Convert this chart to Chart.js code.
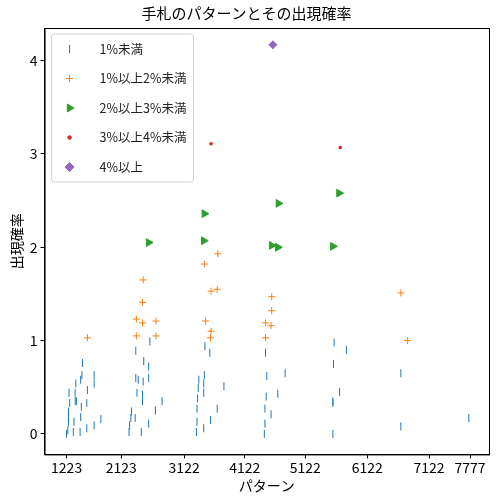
<!DOCTYPE html>
<html>
<head>
<meta charset="utf-8">
<script src="https://cdn.jsdelivr.net/npm/chart.js@4"></script>
<style>
  body { margin: 0; background: #fff; }
  #wrap { width: 500px; height: 500px; }
</style>
</head>
<body>
<div id="wrap"><canvas id="c"></canvas></div>
<script>
// x は「パターン」の並び順（インデックス）、y は出現確率(%)
const tickPos = [0, 8.94, 19.2, 29.1, 39.0, 49.1, 59.2, 65.9];
const tickLabels = ['1223', '2123', '3122', '4122', '5122', '6122', '7122', '7777'];

const lt1X = [0,0.2,0.3,0.3,0.4,0.3,0.5,1.1,1.2,1.4,1.4,1.5,1.6,2.2,2.3,2.4,2.3,2.5,2.6,3.3,3.4,3.3,4.5,4.5,4.5,5.6,
  10.2,10.3,10.5,10.6,11.2,11.3,11.3,11.5,11.7,12.2,12.4,12.4,12.5,12.6,13.4,13.4,13.6,14.5,13.4,15.6,
  21.2,21.3,21.3,21.4,21.5,21.6,22.4,22.4,22.4,22.5,22.6,23.4,23.5,24.6,25.7,
  32.3,32.4,32.4,32.6,32.7,32.5,33.4,34.5,35.7,
  43.5,43.5,43.5,43.6,43.7,44.6,45.7, 54.6,54.6,65.7];
const lt1Y = [0.00,0.04,0.13,0.24,0.44,0.17,0.33,0.02,0.13,0.35,0.44,0.54,0.35,0.02,0.18,0.29,0.58,0.63,0.76,0.33,0.47,0.06,0.63,0.54,0.09,0.16,
  0.02,0.09,0.17,0.24,0.17,0.89,0.60,0.44,0.58,0.02,0.35,0.42,0.56,0.78,0.72,0.60,0.99,0.25,0.11,0.35,
  0.02,0.13,0.27,0.38,0.49,0.58,0.06,0.44,0.54,0.63,0.94,0.87,0.15,0.27,0.51,
  0.00,0.11,0.27,0.40,0.62,0.87,0.21,0.43,0.65,
  0.00,0.33,0.35,0.75,0.98,0.45,0.90, 0.08,0.65,0.17];

const lt2X = [3.4,11.4,11.4,12.4,14.6,14.6,12.4,12.5,22.5,22.7,23.6,24.6,23.6,23.5,24.7,32.5,33.4,33.5,33.5,32.5,54.6,55.7];
const lt2Y = [1.03,1.05,1.23,1.19,1.21,1.05,1.41,1.65,1.82,1.21,1.53,1.55,1.10,1.03,1.93,1.19,1.16,1.32,1.47,1.03,1.51,1.00];

const lt3X = [13.4,22.5,22.4,33.5,34.5,34.6,44.5,43.5];
const lt3Y = [2.05,2.36,2.07,2.02,2.00,2.47,2.58,2.01];

const lt4X = [23.6,44.7];
const lt4Y = [3.11,3.07];

const ge4X = [33.7];
const ge4Y = [4.17];

const seriesNames = ['1%未満', '1%以上2%未満', '2%以上3%未満', '3%以上4%未満', '4%以上'];
const colors = ['#1f77b4', '#ff7f0e', '#2ca02c', '#d62728', '#9467bd'];

const FONT = "'Noto Sans CJK JP', 'DejaVu Sans', sans-serif";

function pts(xs, ys) {
    return xs.map((x, i) => ({ x: x, y: ys[i] }));
}

const styles = [
    { pointStyle: 'line', rotation: 90, radius: 4, borderWidth: 1 },
    { pointStyle: 'cross', rotation: 0, radius: 3.5, borderWidth: 1 },
    { pointStyle: 'triangle', rotation: 90, radius: 4.5, borderWidth: 1 },
    { pointStyle: 'circle', rotation: 0, radius: 1.8, borderWidth: 0 },
    { pointStyle: 'rectRot', rotation: 0, radius: 4.5, borderWidth: 0 }
];

const allData = [pts(lt1X, lt1Y), pts(lt2X, lt2Y), pts(lt3X, lt3Y), pts(lt4X, lt4Y), pts(ge4X, ge4Y)];

const datasets = allData.map((d, i) => ({
    label: seriesNames[i],
    data: d,
    pointStyle: styles[i].pointStyle,
    rotation: styles[i].rotation,
    pointRadius: styles[i].radius,
    pointBorderWidth: styles[i].borderWidth,
    borderColor: colors[i],
    backgroundColor: colors[i],
    showLine: false
}));

// 枠線と凡例（プロット内の左上）
const innerLegend = {
    id: 'innerLegend',
    afterDraw(chart) {
        const ctx = chart.ctx;
        const a = chart.chartArea;
        ctx.save();
        ctx.strokeStyle = '#000';
        ctx.lineWidth = 1;
        ctx.strokeRect(a.left + 0.5, a.top + 0.5, a.right - a.left, a.bottom - a.top);

        const x0 = a.left + 7, y0 = a.top + 6, w = 142, h = 148;
        ctx.fillStyle = 'rgba(255,255,255,0.8)';
        ctx.strokeStyle = '#d0d0d0';
        ctx.beginPath();
        ctx.roundRect(x0, y0, w, h, 3);
        ctx.fill();
        ctx.stroke();
        ctx.font = '12.5px ' + FONT;
        ctx.textBaseline = 'middle';
        seriesNames.forEach((name, i) => {
            const cy = y0 + 15 + i * 29.5;
            const s = styles[i];
            ctx.fillStyle = colors[i];
            ctx.strokeStyle = colors[i];
            Chart.helpers.drawPoint(ctx, {
                pointStyle: s.pointStyle, rotation: s.rotation,
                radius: s.radius, borderWidth: s.borderWidth || 1
            }, x0 + 18, cy);
            ctx.fillStyle = '#222';
            ctx.fillText(name, x0 + 48, cy);
        });
        ctx.restore();
    }
};

new Chart(document.getElementById('c'), {
    type: 'scatter',
    data: { datasets: datasets },
    plugins: [innerLegend],
    options: {
        responsive: true,
        maintainAspectRatio: false,
        animation: false,
        layout: { padding: { left: 4, right: 11, top: 2, bottom: 2 } },
        plugins: {
            legend: { display: false },
            tooltip: { enabled: false },
            title: {
                display: true,
                text: '手札のパターンとその出現確率',
                color: '#000',
                font: { family: FONT, size: 15, weight: 'normal' },
                padding: { top: 2, bottom: 6 }
            }
        },
        scales: {
            x: {
                type: 'linear',
                min: -3.6,
                max: 69,
                grid: { drawOnChartArea: false, color: '#000', tickLength: 4 },
                border: { color: '#000' },
                afterBuildTicks(axis) {
                    axis.ticks = tickPos.map(v => ({ value: v }));
                },
                ticks: {
                    autoSkip: false,
                    maxRotation: 0,
                    color: '#000',
                    font: { family: FONT, size: 14 },
                    padding: 1,
                    callback: (v, i) => tickLabels[i]
                },
                title: {
                    display: true,
                    text: 'パターン',
                    color: '#000',
                    font: { family: FONT, size: 14 },
                    padding: { top: 0 }
                }
            },
            y: {
                min: -0.22,
                max: 4.35,
                grid: { drawOnChartArea: false, color: '#000', tickLength: 4 },
                border: { color: '#000' },
                afterBuildTicks(axis) {
                    axis.ticks = [0, 1, 2, 3, 4].map(v => ({ value: v }));
                },
                ticks: {
                    color: '#000',
                    font: { family: FONT, size: 14 },
                    padding: 3
                },
                title: {
                    display: true,
                    text: '出現確率',
                    color: '#000',
                    font: { family: FONT, size: 14 },
                    padding: { bottom: 2 }
                }
            }
        }
    }
});
</script>
</body>
</html>
